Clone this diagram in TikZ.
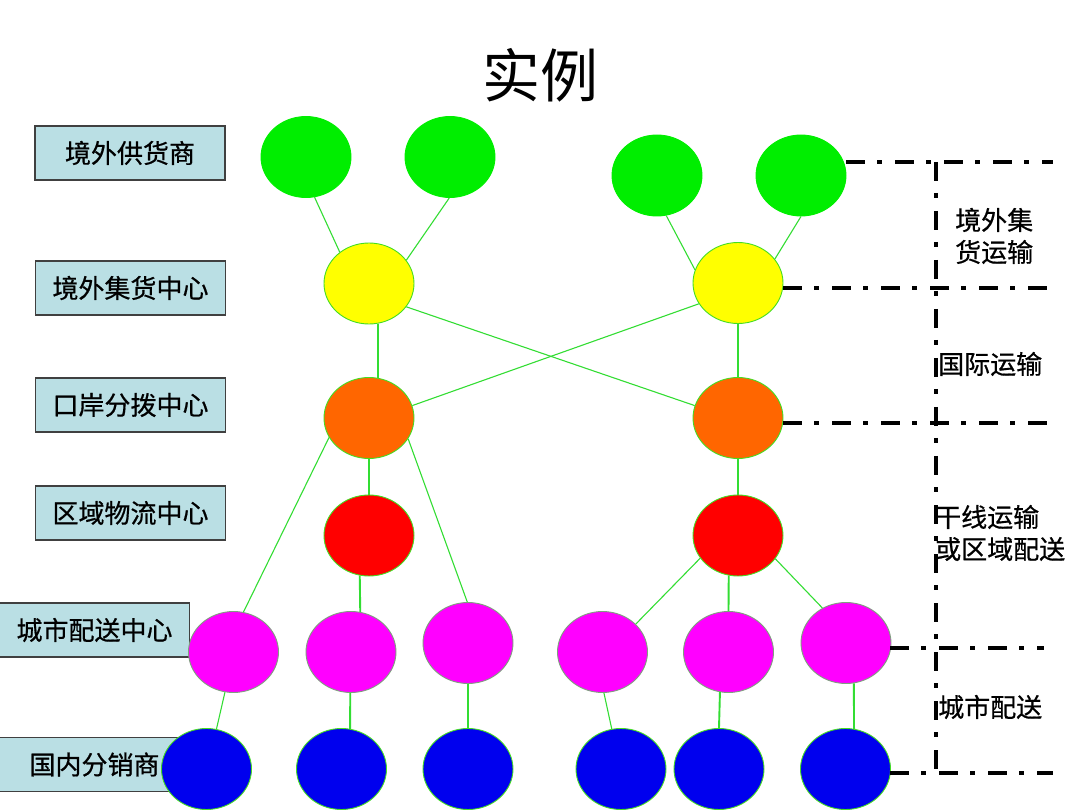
\documentclass[tikz,border=0pt]{standalone}
\usepackage{fontspec}
\setmainfont{Noto Sans CJK SC}
\newfontfamily\cjkmed{Noto Sans CJK SC}[FakeBold=0.6]
\usetikzlibrary{shapes.geometric}
\definecolor{cgreen}{HTML}{00EE00}
\definecolor{cyellow}{HTML}{FFFF00}
\definecolor{corange}{HTML}{FF6600}
\definecolor{cred}{HTML}{FF0000}
\definecolor{cmagenta}{HTML}{FF00FF}
\definecolor{cblue}{HTML}{0000EE}
\definecolor{linegreen}{HTML}{33DD33}
\definecolor{edgegreen}{HTML}{44DD22}
\definecolor{edgegray}{HTML}{7FA07F}
\definecolor{boxfill}{HTML}{BADFE4}
\definecolor{boxborder}{HTML}{404040}
\begin{document}
\begin{tikzpicture}[x=1pt,y=-1pt,
  dot/.style={ellipse, minimum width=90pt, minimum height=81pt, inner sep=0pt, draw=edgegreen, line width=0.9pt},
  lbl/.style={draw=boxborder, fill=boxfill, line width=1.6pt, minimum width=190pt, minimum height=54pt, inner sep=0pt, font=\cjkmed\fontsize{26}{30}\selectfont},
  link/.style={draw=linegreen, line width=1.1pt},
  vlink/.style={draw=linegreen, line width=1.9pt},
  sep/.style={draw=black, line width=4pt, dash pattern=on 19pt off 12pt on 5pt off 13pt},
  side/.style={font=\cjkmed\fontsize{26}{32}\selectfont, anchor=west, align=left, inner sep=0pt}
]
\useasboundingbox (0,0) rectangle (1080,810);
\fill[white] (0,0) rectangle (1080,810);

% title
\node (title) at (540,75) {\fontsize{58}{62}\selectfont 实例};

% left labels
\node[lbl] (L1) at (130,153) {境外供货商};
\node[lbl] (L2) at (130.5,288) {境外集货中心};
\node[lbl] (L3) at (130.5,405) {口岸分拨中心};
\node[lbl] (L4) at (130.5,513) {区域物流中心};
\node[lbl] (L5) at (94.5,630) {城市配送中心};
\node[lbl] (L6) at (94.5,764.5) {国内分销商};

% nodes
\node[dot, fill=cgreen, draw=cgreen] (g1) at (306,157) {};
\node[dot, fill=cgreen, draw=cgreen] (g2) at (450,157) {};
\node[dot, fill=cgreen, draw=cgreen] (g3) at (657,175.5) {};
\node[dot, fill=cgreen, draw=cgreen] (g4) at (801,175.5) {};
\node[dot, fill=cyellow] (y1) at (369,283.5) {};
\node[dot, fill=cyellow] (y2) at (738,283) {};
\node[dot, fill=corange] (o1) at (369,418) {};
\node[dot, fill=corange] (o2) at (738,418) {};
\node[dot, fill=cred] (r1) at (369,535.5) {};
\node[dot, fill=cred] (r2) at (738,535.5) {};
\node[dot, fill=cmagenta, draw=edgegray] (m1) at (233.5,652) {};
\node[dot, fill=cmagenta, draw=edgegray] (m2) at (351,652) {};
\node[dot, fill=cmagenta, draw=edgegray] (m3) at (468,643) {};
\node[dot, fill=cmagenta, draw=edgegray] (m4) at (602.5,652) {};
\node[dot, fill=cmagenta, draw=edgegray] (m5) at (728.5,652) {};
\node[dot, fill=cmagenta, draw=edgegray] (m6) at (846,643) {};
\node[dot, fill=cblue] (b1) at (206.5,769) {};
\node[dot, fill=cblue] (b2) at (341.5,769) {};
\node[dot, fill=cblue] (b3) at (468,769) {};
\node[dot, fill=cblue] (b4) at (621,769) {};
\node[dot, fill=cblue] (b5) at (719,769) {};
\node[dot, fill=cblue] (b6) at (845.5,769) {};

% connectors
\draw[link] (g1.-78) -- (y1.133);
\draw[link] (g2.-91) -- (y1.32);
\draw[vlink] (y1.-77) -- (o1.77);
\draw[link] (y1.-32) -- (o2.164);
\draw[link] (o1.16) -- (y2.-152);
\draw[link] (g3.-77) -- (y2.163);
\draw[link] (g4.-90) -- (y2.33);
\draw[vlink] (y2.south) -- (o2.north);
\draw[vlink] (o2.south) -- (r2.north);
\draw[vlink] (o1.south) -- (r1.north);
\draw[link] (o1.-154) -- (m1.76);
\draw[link] (o1.-28) -- (m3.91);
\draw[vlink] (r1.-103) -- (m2.77);
\draw[link] (m1.-102) -- (b1.76);
\draw[vlink] (m2.-91) -- (b2.78);
\draw[vlink] (m3.south) -- (b3.north);
\draw[link] (r2.-149) -- (m4.40);
\draw[vlink] (r2.-103) -- (m5.90);
\draw[link] (r2.-32) -- (m6.124);
\draw[link] (m4.-88) -- (b4.103);
\draw[vlink] (m5.-102) -- (b5.90);
\draw[vlink] (m6.-79) -- (b6.78);

% separators
\coordinate (s1l) at (846,162); \coordinate (s1r) at (1053,162);
\coordinate (s2l) at (783,288); \coordinate (s2r) at (1053,288);
\coordinate (s3l) at (783,423); \coordinate (s3r) at (1053,423);
\coordinate (s4l) at (890,648); \coordinate (s4r) at (1044,648);
\coordinate (s5l) at (890,773); \coordinate (s5r) at (1053,773);
\coordinate (vt) at (936,162); \coordinate (vb) at (936,773);
\draw[sep] (s1l) -- (s1r);
\draw[sep] (s2l) -- (s2r);
\draw[sep] (s3l) -- (s3r);
\draw[sep] (s4l) -- (s4r);
\draw[sep] (s5l) -- (s5r);
\draw[sep] (vt) -- (vb);

% side labels
\node[side] (t1) at (955,236) {境外集\\货运输};
\node[side] (t2) at (938,364) {国际运输};
\node[side] (t3) at (935,533) {干线运输\\或区域配送};
\node[side] (t4) at (938,707) {城市配送};
\end{tikzpicture}
\end{document}
